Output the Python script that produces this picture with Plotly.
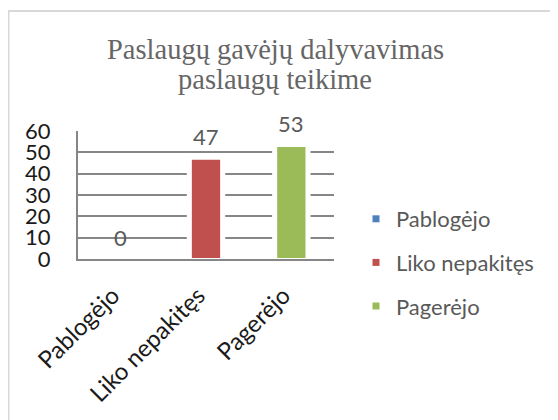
import plotly.graph_objects as go

# data
categories = ["Pablogėjo", "Liko nepakitęs", "Pagerėjo"]
values = [0, 47, 53]
colors = ["#4F81BD", "#C0504D", "#9BBB59"]
y_ticks = [0, 10, 20, 30, 40, 50, 60]
title_lines = ["Paslaugų gavėjų dalyvavimas", "paslaugų teikime"]

# the page body adds an 8px margin, so the figure starts at (8, 8) on screen
OFF = 8
W, H = 558, 420
ML, MT = 78 - OFF, 131 - OFF
PW, PH = 256, 128
MR, MB = W - ML - PW, H - MT - PH


def px_x(px):
    return (px - OFF - ML) / PW


def px_y(py):
    return (MT + PH - (py - OFF)) / PH


fig = go.Figure()

# white backing so gridlines break around the bars
fig.add_trace(go.Bar(
    x=categories, y=values, width=0.45,
    marker=dict(color="white", line=dict(width=0)),
    showlegend=False, hoverinfo="skip",
))

for cat, val, col in zip(categories, values, colors):
    fig.add_trace(go.Bar(
        x=[cat], y=[val], width=0.355, name=cat,
        marker=dict(color=col, line=dict(color="white", width=2)),
        showlegend=False,
    ))
    # legend entry with a small square swatch
    fig.add_trace(go.Scatter(
        x=[None], y=[None], mode="markers", name=cat, legendgroup=cat,
        marker=dict(symbol="square", size=7, color=col),
    ))

for cat, val in zip(categories, values):
    fig.add_annotation(
        x=cat, y=val, text=str(val), showarrow=False, yshift=22,
        font=dict(family="Lato", size=22, color="#595959"),
    )

# two-line chart title
for line, mid in zip(title_lines, [49, 79]):
    fig.add_annotation(
        xref="paper", yref="paper", x=px_x(275), y=px_y(mid),
        xanchor="center", yanchor="middle", showarrow=False, text=line,
        font=dict(family="Liberation Serif", size=28.5, color="#666666"),
    )

# chart frame (only top and left edges are in view)
fig.add_shape(
    type="path", xref="paper", yref="paper",
    path=f"M {px_x(8.5)},{px_y(440)} L {px_x(8.5)},{px_y(11)} L {px_x(580)},{px_y(11)}",
    line=dict(color="#d9d9d9", width=2),
)

fig.update_layout(
    width=W, height=H,
    margin=dict(l=ML, r=MR, t=MT, b=MB, autoexpand=False),
    paper_bgcolor="white", plot_bgcolor="white",
    barmode="overlay",
    legend=dict(
        x=px_x(356), xanchor="left", y=px_y(198), yanchor="top",
        font=dict(family="Lato", size=22, color="#595959"),
        tracegroupgap=12, bgcolor="rgba(0,0,0,0)", maxheight=400,
    ),
    xaxis=dict(
        type="category", tickangle=-45, showgrid=False, automargin=False,
        showline=True, linecolor="#868686", linewidth=2,
        tickfont=dict(family="Lato", size=24, color="#1a1a1a"),
        ticks="", ticklabelstandoff=11, ticklabelshift=-8,
    ),
    yaxis=dict(
        range=[0, 60], tickvals=y_ticks, automargin=False,
        showgrid=True, gridcolor="#868686", gridwidth=2,
        showline=True, linecolor="#868686", linewidth=2,
        zeroline=False, ticks="", ticklabelstandoff=21,
        tickfont=dict(family="Lato", size=22, color="#1a1a1a"),
    ),
)

fig.write_html("out.html")
